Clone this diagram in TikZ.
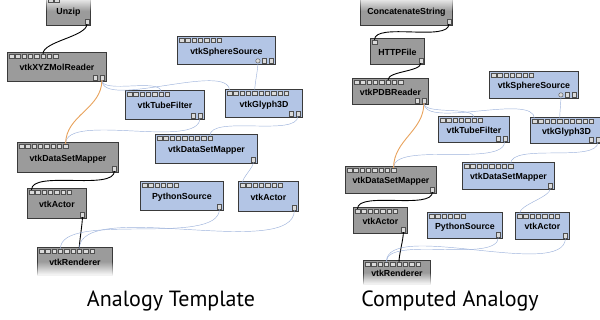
\documentclass[tikz,border=0pt]{standalone}
\usepackage{fontspec}
\setsansfont{Liberation Sans}
\newfontfamily\captionfont{PT Sans}
\usetikzlibrary{fadings}

\definecolor{modgray}{HTML}{9B9B9B}
\definecolor{modblue}{HTML}{B3C5E5}
\definecolor{modline}{HTML}{3A3A3A}
\definecolor{portfill}{HTML}{DADADA}
\definecolor{portline}{HTML}{505050}
\definecolor{linkblue}{HTML}{9DB2DB}
\definecolor{linkpale}{HTML}{DCE5F5}
\definecolor{linkorange}{HTML}{E8A25C}

\tikzfading[name=fadetop, top color=transparent!100, bottom color=transparent!0, middle color=transparent!0]
\tikzfading[name=fadebottom, top color=transparent!0, bottom color=transparent!100, middle color=transparent!0]

\tikzset{
  module/.style={draw=modline, line width=0.9pt, anchor=north west, inner sep=0pt,
    text height=8.5pt, text depth=0.5pt, font=\sffamily\bfseries\fontsize{8.8}{10}\selectfont},
  graymod/.style={module, fill=modgray},
  bluemod/.style={module, fill=modblue},
  port/.style={draw=portline, fill=portfill, line width=0.4pt, minimum size=4.4pt,
    inner sep=0pt, outer sep=0pt},
  vflow/.style={out=-90, in=90, looseness=0.6},
  wire/.style={line width=0.9pt, black},
  bluewire/.style={draw=linkblue, line width=0.45pt, double=linkpale, double distance=0.5pt},
  orangewire/.style={draw=linkorange, line width=0.9pt},
  caption/.style={font=\captionfont\fontsize{22}{26}\selectfont}
}

% row of input ports along the top edge of a module
\newcommand\inports[2]{%
  \foreach \i in {1,...,#2}
    \node[port] (#1-\i) at ([xshift={4.5+6.3*(\i-1)}, yshift=-4]#1.north west) {};}
% one output port near the bottom right corner
\newcommand\outport[3]{%
  \node[port] (#1-#2) at ([xshift=#3, yshift=4]#1.south east) {};}

\begin{document}
\begin{tikzpicture}[x=1pt, y=1pt]
  \useasboundingbox (0,0) rectangle (600,-320);

  % analogy template
  \node[graymod, path fading=fadetop, minimum width=44, minimum height=29] (unzip) at (46,4) {Unzip};
  \inports{unzip}{2} \outport{unzip}{o}{-4}
  \node[graymod, minimum width=99, minimum height=29] (molreader) at (7,-52) {vtkXYZMolReader};
  \inports{molreader}{8} \outport{molreader}{o1}{-11.5} \outport{molreader}{o2}{-5}
  \node[bluemod, minimum width=98, minimum height=28] (sphere) at (177,-36) {vtkSphereSource};
  \inports{sphere}{7} \outport{sphere}{o1}{-11.5} \outport{sphere}{o2}{-5}
  \node[port, circle] (sphere-oc) at ([xshift=-18, yshift=4]sphere.south east) {};
  \node[bluemod, minimum width=79, minimum height=29] (tube) at (125,-90) {vtkTubeFilter};
  \inports{tube}{7} \outport{tube}{o1}{-11.5} \outport{tube}{o2}{-5}
  \node[bluemod, minimum width=77, minimum height=28] (glyph) at (225,-89) {vtkGlyph3D};
  \inports{glyph}{10} \outport{glyph}{o1}{-11.5} \outport{glyph}{o2}{-5}
  \node[graymod, minimum width=101, minimum height=30] (mapperA) at (17,-142) {vtkDataSetMapper};
  \inports{mapperA}{8} \outport{mapperA}{o}{-4.5}
  \node[bluemod, minimum width=102, minimum height=29] (mapperB) at (155,-134) {vtkDataSetMapper};
  \inports{mapperB}{9} \outport{mapperB}{o}{-4.5}
  \node[graymod, minimum width=59, minimum height=30] (actorA) at (27,-188) {vtkActor};
  \inports{actorA}{7} \outport{actorA}{o}{-4.5}
  \node[bluemod, minimum width=83, minimum height=29] (python) at (140,-181) {PythonSource};
  \inports{python}{6} \outport{python}{o}{-4.5}
  \node[bluemod, minimum width=60, minimum height=30] (actorB) at (238,-181) {vtkActor};
  \inports{actorB}{7} \outport{actorB}{o}{-4.5}
  \node[graymod, path fading=fadebottom, minimum width=75, minimum height=28] (render) at (37,-247) {vtkRenderer};
  \inports{render}{9}

  % computed analogy
  \node[graymod, path fading=fadetop, minimum width=92, minimum height=29] (concat) at (360,4) {ConcatenateString};
  \outport{concat}{o}{-4}
  \node[graymod, minimum width=54, minimum height=26] (http) at (370,-38) {HTTPFile};
  \inports{http}{1} \outport{http}{o}{-4}
  \node[graymod, minimum width=76, minimum height=26] (pdb) at (352,-78) {vtkPDBReader};
  \inports{pdb}{8} \outport{pdb}{o1}{-11.5} \outport{pdb}{o2}{-5}
  \node[bluemod, minimum width=89, minimum height=27] (rsphere) at (489,-71) {vtkSphereSource};
  \inports{rsphere}{7} \outport{rsphere}{o1}{-11.5} \outport{rsphere}{o2}{-5}
  \node[port, circle] (rsphere-oc) at ([xshift=-18, yshift=4]rsphere.south east) {};
  \node[bluemod, minimum width=71, minimum height=26] (rtube) at (438,-116) {vtkTubeFilter};
  \inports{rtube}{7} \outport{rtube}{o1}{-11.5} \outport{rtube}{o2}{-5}
  \node[bluemod, minimum width=72, minimum height=26] (rglyph) at (530,-117) {vtkGlyph3D};
  \inports{rglyph}{10} \outport{rglyph}{o1}{-11.5} \outport{rglyph}{o2}{-5}
  \node[graymod, minimum width=91, minimum height=27] (rmapperA) at (345,-166) {vtkDataSetMapper};
  \inports{rmapperA}{8} \outport{rmapperA}{o}{-4.5}
  \node[bluemod, minimum width=92, minimum height=27] (rmapperB) at (462,-162) {vtkDataSetMapper};
  \inports{rmapperB}{8} \outport{rmapperB}{o}{-4.5}
  \node[graymod, minimum width=54, minimum height=26] (ractorA) at (353,-207) {vtkActor};
  \inports{ractorA}{7} \outport{ractorA}{o}{-4.5}
  \node[bluemod, minimum width=75, minimum height=26] (rpython) at (427,-212) {PythonSource};
  \inports{rpython}{6} \outport{rpython}{o}{-4.5}
  \node[bluemod, minimum width=54, minimum height=27] (ractorB) at (515,-212) {vtkActor};
  \inports{ractorB}{7} \outport{ractorB}{o}{-4.5}
  \node[graymod, path fading=fadebottom, minimum width=67, minimum height=24] (rrender) at (363,-260) {vtkRenderer};
  \inports{rrender}{9}

  \node[caption] (template) at (171,-301) {Analogy Template};
  \node[caption] (computed) at (450,-301) {Computed Analogy};

  \begin{scope}[wire]
    \draw (unzip-o) to[vflow] (molreader-6);
    \draw (mapperA-o) to[vflow] (actorA-1);
    \draw (actorA-o) to[vflow] (render-7);
    \draw (concat-o) to[vflow] (http-1);
    \draw (http-o) to[vflow] (pdb-6);
    \draw (rmapperA-o) to[vflow] (ractorA-1);
    \draw (ractorA-o) to[vflow] (rrender-6);
  \end{scope}
  \begin{scope}[bluewire]
    \draw (molreader-o2) to[vflow] (tube-6);
    \draw (molreader-o2) to[vflow] (glyph-1);
    \draw (sphere-oc) to[vflow] (glyph-5);
    \draw (tube-o2) to[vflow] (mapperA-8);
    \draw (glyph-o2) to[vflow] (mapperB-9);
    \draw (mapperB-o) to[vflow] (actorB-1);
    \draw (python-o) to[vflow] (render-4);
    \draw (actorB-o) to[vflow] (render-7);
    \draw (pdb-o2) to[vflow] (rtube-6);
    \draw (pdb-o2) to[vflow] (rglyph-1);
    \draw (rsphere-oc) to[vflow] (rglyph-5);
    \draw (rtube-o2) to[vflow] (rmapperA-8);
    \draw (rglyph-o2) to[vflow] (rmapperB-8);
    \draw (rmapperB-o) to[vflow] (ractorB-1);
    \draw (rpython-o) to[vflow] (rrender-4);
    \draw (ractorB-o) to[vflow] (rrender-4);
  \end{scope}
  \begin{scope}[orangewire]
    \draw (molreader-o2) to[out=-90, in=90] (mapperA-8);
    \draw (pdb-o2) to[out=-90, in=90] (rmapperA-8);
  \end{scope}
\end{tikzpicture}
\end{document}
